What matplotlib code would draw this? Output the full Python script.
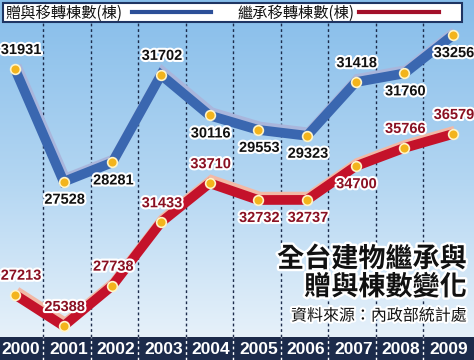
import numpy as np
import matplotlib
matplotlib.use('Agg')
import matplotlib.pyplot as plt
import matplotlib.patheffects as pe
from matplotlib.patches import Rectangle
from matplotlib.colors import LinearSegmentedColormap

# --- Data ---
years = ['2000', '2001', '2002', '2003', '2004', '2005', '2006', '2007', '2008', '2009']
gift = [31931, 27528, 28281, 31702, 30116, 29553, 29323, 31418, 31760, 33256]
inherit = [27213, 25388, 27738, 31433, 33710, 32732, 32737, 34700, 35766, 36579]
gift_label = '贈與移轉棟數(棟)'
inherit_label = '繼承移轉棟數(棟)'
title_lines = ['全台建物繼承與', '贈與棟數變化']
source = '資料來源：內政部統計處'

# label placement (above / below the marker)
gift_pos = ['up', 'down', 'down', 'up', 'down', 'down', 'down', 'up', 'down', 'down']
inherit_pos = ['up', 'up', 'up', 'up', 'up', 'down', 'down', 'down', 'up', 'up']

W, H = 474, 360
cjk = ['Noto Sans CJK TC', 'DejaVu Sans']
num_font = ['Liberation Sans', 'DejaVu Sans']

def fx(px):
    return px / W

def fy(py):
    return 1 - py / H

fig = plt.figure(figsize=(W / 100, H / 100), dpi=100)

# background gradient
bg = fig.add_axes([0, 0, 1, 1])
grad = np.linspace(0, 1, 256).reshape(-1, 1)
cmap = LinearSegmentedColormap.from_list('sky', ['#86bdea', '#b3d6f2', '#eef5fb'])
bg.imshow(grad, aspect='auto', cmap=cmap, extent=[0, 1, 0, 1], origin='upper')
bg.set_xlim(0, 1)
bg.set_ylim(0, 1)
bg.axis('off')

x = np.arange(len(years))
xlim = (-15 / 48.67, 9 + 21 / 48.67)

# column grid of the year band (slightly tighter than the marker grid)
col_w = 47.5
label_px = 21 + col_w * x
sep_px = 43 + col_w * np.arange(len(years) - 1)

# vertical dotted separators
for s in sep_px:
    bg.plot([fx(s), fx(s)], [fy(337), fy(22)], color='#1c2b4b', lw=1, ls=(0, (2, 2)))

ax_r = fig.add_axes([0, 0, 1, 1])
ax_r.set_facecolor('none')
ax_r.set_xlim(*xlim)
ax_r.set_ylim(23407, 44386)
ax_r.axis('off')

ax_b = fig.add_axes([0, 0, 1, 1])
ax_b.set_facecolor('none')
ax_b.set_xlim(*xlim)
ax_b.set_ylim(20565, 34627)
ax_b.axis('off')

def draw_series(ax, vals, main, hi, pos, tcolor):
    ax.plot(x, vals, color=main, lw=7, solid_joinstyle='miter', solid_capstyle='butt',
            path_effects=[pe.SimpleLineShadow(offset=(1.2, 2.4), shadow_color=hi, alpha=1, rho=1),
                          pe.Normal()], zorder=2)
    ax.plot(x, vals, ls='none', marker='o', ms=7, mfc='#f3b41c', mec='#fff4c8', mew=1.2, zorder=3)
    for i, (v, p) in enumerate(zip(vals, pos)):
        dy = 19 if p == 'up' else -18
        dx = 6 if i == 0 else 1
        ax.annotate(str(v), (x[i], v), xytext=(dx, dy), textcoords='offset pixels',
                    ha='center', va='center', fontsize=10.5, fontweight='bold',
                    family=num_font, color=tcolor, zorder=4,
                    path_effects=[pe.withStroke(linewidth=3, foreground='white')])

draw_series(ax_b, gift, '#3a67b0', '#a9b6dc', gift_pos, '#111111')
draw_series(ax_r, inherit, '#c4122a', '#f2b9a6', inherit_pos, '#8a1022')

# year band
fig.patches.append(Rectangle((0, 0), 1, fy(337), transform=fig.transFigure,
                             facecolor='#1c2b4b', edgecolor='none', zorder=5))
for px, yr in zip(label_px, years):
    fig.text(fx(px), fy(349), yr, ha='center', va='center', fontsize=12.5,
             fontweight='bold', family=num_font, color='white', zorder=6)
for s in sep_px:
    fig.add_artist(plt.Line2D([fx(s), fx(s)], [0, fy(337)], color='white', lw=1,
                              ls=(0, (2, 2)), transform=fig.transFigure, zorder=6))

# legend box
fig.patches.append(Rectangle((fx(3), fy(22)), fx(459), 19 / H, transform=fig.transFigure,
                             facecolor='white', edgecolor='#1f3563', lw=1.5, zorder=7))
fig.text(fx(5), fy(13), gift_label, ha='left', va='center', fontsize=11,
         family=cjk, color='#111111', zorder=8)
fig.add_artist(plt.Line2D([fx(132), fx(211)], [fy(12), fy(12)], color='#2c4f98', lw=3,
                          transform=fig.transFigure, zorder=8))
fig.text(fx(237), fy(13), inherit_label, ha='left', va='center', fontsize=11,
         family=cjk, color='#111111', zorder=8)
fig.add_artist(plt.Line2D([fx(359), fx(439)], [fy(12), fy(12)], color='#a3102a', lw=3,
                          transform=fig.transFigure, zorder=8))

# title and source
stroke = [pe.withStroke(linewidth=3.5, foreground='white')]
fig.text(fx(467), fy(259), title_lines[0], ha='right', va='center', fontsize=19.5,
         fontweight='heavy', family=cjk, color='#111111', path_effects=stroke, zorder=8)
fig.text(fx(467), fy(287), title_lines[1], ha='right', va='center', fontsize=19.5,
         fontweight='heavy', family=cjk, color='#111111', path_effects=stroke, zorder=8)
fig.text(fx(467), fy(316), source, ha='right', va='center', fontsize=11.5,
         family=cjk, color='#111111',
         path_effects=[pe.withStroke(linewidth=3, foreground='white')], zorder=8)

fig.savefig('out.png', dpi=100)
